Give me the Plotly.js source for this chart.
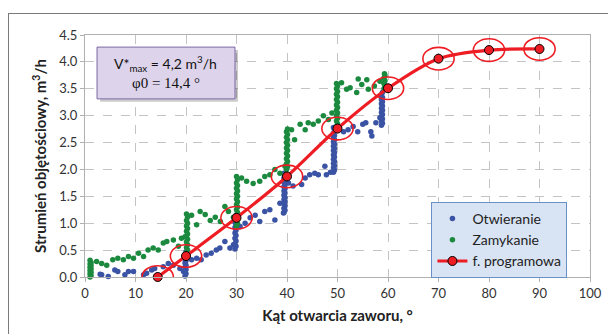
<!DOCTYPE html>
<html><head><meta charset="utf-8">
<script src="https://cdn.plot.ly/plotly-3.0.1.min.js"></script>
<style>
body{margin:0;background:#fff}
#wrap{position:relative;width:608px;height:334px;overflow:hidden}
#chart{position:absolute;left:0;top:0;width:608px;height:334px}
#frame{position:absolute;left:8px;top:13px;width:700px;height:400px;border-left:1.5px solid #7a7a7a;border-top:1.5px solid #7a7a7a;pointer-events:none}
</style>
</head><body><div id="wrap"><div id="chart"></div><div id="frame"></div></div>
<script>
// Otwieranie (opening) – blue
const openX = [3.0,3.3,4.6,5.9,6.5,7.9,8.6,9.6,11.6,12.2,13.2,13.8,15.5,16.5,17.5,18.8,19.5,
  19.8,20.0,19.8,20.0,19.8,20.0,19.8,20.0,19.8,20.0,19.8,20.0,
  21.1,22.1,23.0,24.0,25.0,26.0,26.7,27.7,28.7,29.4,
  29.7,29.9,29.7,29.9,29.7,29.9,29.7,29.9,29.7,29.9,29.7,29.9,29.7,29.9,
  30.7,31.7,32.7,33.7,34.6,35.6,36.6,37.6,38.6,39.3,
  39.4,39.6,39.4,39.6,39.4,39.6,39.4,39.6,39.4,39.6,39.4,39.6,39.4,39.6,39.4,39.6,39.4,39.6,39.4,
  40.3,41.2,42.9,43.6,44.5,45.5,46.2,47.5,47.8,48.6,
  49.2,49.4,49.2,49.4,49.2,49.4,49.2,49.4,49.2,49.4,49.2,49.4,49.2,49.4,49.2,49.4,49.2,49.4,49.2,49.4,49.2,
  51.2,52.1,53.1,54.0,55.0,55.6,56.6,56.8,57.6,58.4,
  58.7,58.9,58.7,58.9,58.7,58.9,58.7,58.9,58.7,58.9,58.7,58.9,58.7,58.9,58.7,58.9];
const openY = [0.05,0.04,0.01,0.13,0.10,0.04,0.10,0.10,0.04,0.07,0.13,0.16,0.19,0.25,0.22,0.16,0.10,
  0.02,0.06,0.10,0.14,0.18,0.22,0.26,0.30,0.34,0.38,0.42,0.47,
  0.32,0.35,0.32,0.41,0.44,0.50,0.54,0.66,0.54,0.60,
  0.52,0.57,0.62,0.67,0.72,0.77,0.82,0.87,0.92,0.97,1.02,1.07,1.11,1.15,
  0.94,1.00,1.10,1.15,1.03,1.22,1.25,1.06,1.37,1.19,
  1.20,1.24,1.28,1.32,1.36,1.40,1.44,1.48,1.52,1.56,1.60,1.64,1.68,1.72,1.76,1.80,1.84,1.88,1.93,
  1.75,1.69,1.72,1.84,1.90,1.93,1.90,2.06,1.90,1.95,
  1.95,1.99,2.03,2.07,2.11,2.15,2.19,2.23,2.27,2.31,2.35,2.39,2.43,2.47,2.51,2.55,2.59,2.63,2.67,2.72,2.78,
  2.70,2.74,2.80,2.70,2.84,2.87,2.70,2.62,2.87,2.96,
  2.82,2.86,2.90,2.94,2.98,3.02,3.06,3.10,3.14,3.18,3.22,3.26,3.30,3.34,3.38,3.43];

// Zamykanie (closing) – green
const closeX = [1.0,1.2,1.0,1.2,1.0,1.2,1.0,1.2,1.0,1.2,1.0,
  2.3,3.3,4.3,5.5,6.5,7.6,8.6,9.6,10.6,11.6,12.5,13.5,14.5,15.5,16.2,17.5,18.5,19.1,19.8,
  20.1,20.3,20.1,20.3,20.1,20.3,20.1,20.3,20.1,20.3,20.1,20.3,20.1,20.3,20.1,
  21.1,22.1,22.8,23.8,24.8,25.8,26.8,27.7,28.4,29.4,
  30.0,30.2,30.0,30.2,30.0,30.2,30.0,30.2,30.0,30.2,30.0,30.2,30.0,30.2,30.0,30.2,30.0,30.2,30.0,
  31.0,32.0,33.3,34.6,35.6,36.6,37.6,38.6,39.6,
  39.9,40.1,39.9,40.1,39.9,40.1,39.9,40.1,39.9,40.1,39.9,40.1,39.9,40.1,39.9,40.1,
  40.9,41.5,42.6,43.6,44.2,45.2,46.2,47.2,48.2,48.9,
  49.8,50.0,49.8,50.0,49.8,50.0,49.8,50.0,49.8,50.0,49.8,50.0,49.8,50.0,49.8,50.0,49.8,
  50.8,51.8,52.5,53.8,54.1,54.8,55.8,56.1,57.3,58.4,
  59.2,59.4,59.2,59.4,59.2,59.4,59.3];
const closeY = [0.00,0.03,0.06,0.09,0.12,0.15,0.18,0.21,0.24,0.27,0.31,
  0.29,0.25,0.22,0.32,0.35,0.32,0.38,0.35,0.44,0.38,0.50,0.54,0.50,0.63,0.66,0.69,0.57,0.72,0.75,
  0.45,0.50,0.55,0.60,0.65,0.70,0.75,0.80,0.85,0.90,0.95,1.00,1.05,1.11,1.17,
  1.15,0.97,1.22,1.16,1.05,1.11,1.03,1.31,1.22,1.11,
  0.95,1.00,1.05,1.10,1.15,1.20,1.25,1.30,1.35,1.40,1.45,1.50,1.55,1.60,1.65,1.70,1.75,1.81,1.87,
  1.84,1.78,1.74,1.78,1.87,1.90,2.00,1.93,2.06,
  2.00,2.05,2.10,2.15,2.20,2.25,2.30,2.35,2.40,2.45,2.50,2.55,2.60,2.65,2.70,2.75,
  2.74,2.55,2.84,2.74,2.87,2.84,2.90,3.00,2.93,3.05,
  2.80,2.85,2.90,2.95,3.00,3.05,3.10,3.15,3.20,3.25,3.30,3.35,3.40,3.45,3.50,3.55,3.60,
  3.61,3.49,3.52,3.43,3.68,3.58,3.67,3.49,3.55,3.64,
  3.50,3.55,3.60,3.65,3.70,3.74,3.78];

// f. programowa – fitted function points
const funcX = [14.4, 20, 30, 40, 50, 60, 70, 80, 90];
const funcY = [0.00, 0.39, 1.10, 1.87, 2.76, 3.51, 4.06, 4.22, 4.24];

const xTicks = [0,10,20,30,40,50,60,70,80,90,100];
const yTicks = [0.0,0.5,1.0,1.5,2.0,2.5,3.0,3.5,4.0,4.5];

const FONT = 'Lato, "Open Sans", sans-serif';
const SERIF = '"Liberation Serif", "DejaVu Serif", serif';
const blue = '#3a53a4', green = '#1b8a3f', red = '#ee1d24';

const traces = [
  {x: openX, y: openY, type:'scatter', mode:'markers', name:'Otwieranie',
   marker:{color:blue, size:5.5}, cliponaxis:false},
  {x: closeX, y: closeY, type:'scatter', mode:'markers', name:'Zamykanie',
   marker:{color:green, size:5.5}, cliponaxis:false},
  {x: funcX, y: funcY, type:'scatter', mode:'lines+markers', name:'f. programowa',
   line:{color:red, width:3.2, shape:'spline', smoothing:0.8},
   marker:{color:red, size:9, line:{color:'#000', width:1}}, cliponaxis:false}
];

const shapes = funcX.map((x,i)=>({type:'circle', xref:'x', yref:'y',
  x0:x-3.1, x1:x+3.1, y0:funcY[i]-0.21, y1:funcY[i]+0.21,
  line:{color:red, width:1.6}, fillcolor:'rgba(0,0,0,0)', layer:'above'}));
// info box: shadow + box
shapes.push({type:'rect', xref:'paper', yref:'paper', x0:0.030, x1:0.303, y0:0.724, y1:0.938,
  line:{width:0}, fillcolor:'rgba(0,0,0,0.2)', layer:'above'});
shapes.push({type:'rect', xref:'paper', yref:'paper', x0:0.0238, x1:0.297, y0:0.736, y1:0.950,
  line:{width:1, color:'#7d68a6'}, fillcolor:'#ddd4eb', layer:'above'});

const layout = {
  width:608, height:334,
  margin:{l:85, r:18, t:35, b:57},
  paper_bgcolor:'#fff', plot_bgcolor:'#fff',
  font:{family:FONT, color:'#333', size:13},
  showlegend:true,
  legend:{x:0.686, y:0.31, xanchor:'left', yanchor:'top',
    bgcolor:'#d8e3f3', bordercolor:'#6b90c8', borderwidth:1,
    font:{family:FONT, size:14, color:'#222'}, tracegroupgap:0},
  xaxis:{range:[0,100], tickvals:xTicks, ticktext:xTicks.map(String),
    showgrid:true, gridcolor:'#c4c4c4', griddash:'dash', gridwidth:1,
    showline:true, linecolor:'#b0b0b0', linewidth:1, mirror:true,
    ticks:'outside', ticklen:4, tickcolor:'#b0b0b0',
    zeroline:false, tickfont:{size:13, color:'#333'},
    title:{text:'<b>Kąt otwarcia zaworu, °</b>', font:{size:15, color:'#222'}, standoff:10}},
  yaxis:{range:[0,4.5], tickvals:yTicks, tickformat:'.1f',
    showgrid:true, gridcolor:'#c4c4c4', griddash:'dash', gridwidth:1,
    showline:true, linecolor:'#b0b0b0', linewidth:1, mirror:true,
    ticks:'outside', ticklen:4, tickcolor:'#b0b0b0',
    zeroline:false, tickfont:{size:13, color:'#333'},
    title:{text:'<b>Strumień objętościowy, m<sup>3</sup>/h</b>', font:{size:15, color:'#222'}, standoff:8}},
  shapes: shapes,
  annotations:[
    {xref:'paper', yref:'paper', x:0.160, y:0.884, xanchor:'center', yanchor:'middle',
     showarrow:false, text:'V*<sub>max</sub> = 4,2 m<sup>3</sup>/h',
     font:{family:FONT, size:14, color:'#111'}},
    {xref:'paper', yref:'paper', x:0.160, y:0.800, xanchor:'center', yanchor:'middle',
     showarrow:false, text:'φ0 = 14,4 °',
     font:{family:SERIF, size:15, color:'#111'}}
  ]
};

Plotly.newPlot('chart', traces, layout, {displayModeBar:false, staticPlot:true});
</script>
</body></html>
